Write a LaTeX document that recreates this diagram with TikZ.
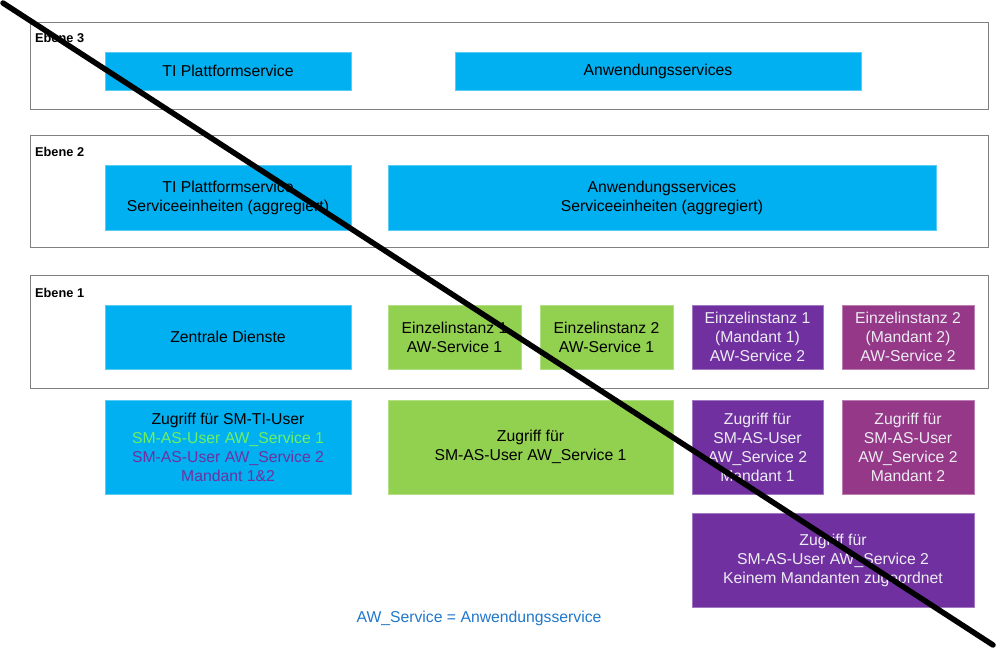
\documentclass[tikz,border=0pt]{standalone}
\usepackage{fontspec}
\setmainfont{Liberation Sans}
\usepackage{tikz}
\definecolor{tiblue}{RGB}{0,176,240}
\definecolor{awgreen}{RGB}{146,208,80}
\definecolor{awpurple}{RGB}{112,48,160}
\definecolor{awmagenta}{RGB}{149,56,136}
\definecolor{usergreen}{RGB}{110,240,100}
\definecolor{noteblue}{RGB}{31,119,204}
\definecolor{lighttext}{RGB}{236,236,242}
\tikzset{
	box/.style={rectangle, inner sep=0pt, align=center, line width=0.6bp,
		font=\fontsize{15.8}{19}\selectfont},
	bluebox/.style={box, fill=tiblue, draw=tiblue!65!white, text=black},
	greenbox/.style={box, fill=awgreen, draw=awgreen!70!white, text=black},
	purplebox/.style={box, fill=awpurple, draw=awpurple!65!white, text=lighttext},
	magentabox/.style={box, fill=awmagenta, draw=awmagenta!65!white, text=lighttext},
	levelframe/.style={draw=black!50, line width=0.9bp},
	levellabel/.style={anchor=base west, inner sep=0pt,
		font=\bfseries\fontsize{12.8}{15}\selectfont}
}

\begin{document}
\begin{tikzpicture}[x=1bp, y=-1bp]
		%%%%% START %%%%%
		\useasboundingbox (0,0) rectangle (997,649);
		
		% Ebene 3
		\draw[levelframe] (30,22) rectangle (988,109);
		\node[levellabel] (l3) at (35,43) {Ebene 3};
		\node[bluebox, minimum width=246bp, minimum height=38bp] (tips3) at (228,71) {TI Plattformservice};
		\node[bluebox, minimum width=406bp, minimum height=38bp] (aws3) at (658,71) {Anwendungsservices};
		
		% Ebene 2
		\draw[levelframe] (30,135) rectangle (988,247);
		\node[levellabel] (l2) at (35,157) {Ebene 2};
		\node[bluebox, minimum width=246bp, minimum height=65bp] (tips2) at (228,197.5) {TI Plattformservice\\Serviceeinheiten (aggregiert)};
		\node[bluebox, minimum width=548bp, minimum height=65bp] (aws2) at (662,197.5) {Anwendungsservices\\Serviceeinheiten (aggregiert)};
		
		% Ebene 1
		\draw[levelframe] (30,275) rectangle (988,388);
		\node[levellabel] (l1) at (35,297) {Ebene 1};
		\node[bluebox, minimum width=246bp, minimum height=64bp] (zd) at (228,337) {Zentrale Dienste};
		\node[greenbox, minimum width=133bp, minimum height=64bp] (ei1) at (454.5,337) {Einzelinstanz 1\\AW-Service 1};
		\node[greenbox, minimum width=133bp, minimum height=64bp] (ei2) at (606.5,337) {Einzelinstanz 2\\AW-Service 1};
		\node[purplebox, minimum width=131bp, minimum height=64bp] (ei1m) at (757.5,337) {Einzelinstanz 1\\(Mandant 1)\\AW-Service 2};
		\node[magentabox, minimum width=132bp, minimum height=64bp] (ei2m) at (908,337) {Einzelinstanz 2\\(Mandant 2)\\AW-Service 2};
		
		% Zugriffe
		\node[bluebox, minimum width=246bp, minimum height=94bp] (zti) at (228,447) {Zugriff für SM-TI-User\\\textcolor{usergreen}{SM-AS-User AW\_Service 1}\\\textcolor{awpurple}{SM-AS-User AW\_Service 2}\\\textcolor{awpurple}{Mandant 1\&2}};
		\node[greenbox, minimum width=285bp, minimum height=94bp] (zaw1) at (530.5,447) {Zugriff für\\SM-AS-User AW\_Service 1};
		\node[purplebox, minimum width=131bp, minimum height=94bp] (zm1) at (757.5,447) {Zugriff für\\SM-AS-User\\AW\_Service 2\\Mandant 1};
		\node[magentabox, minimum width=132bp, minimum height=94bp] (zm2) at (908,447) {Zugriff für\\SM-AS-User\\AW\_Service 2\\Mandant 2};
		\node[purplebox, minimum width=282bp, minimum height=94bp] (zkm) at (833,560) {Zugriff für\\SM-AS-User AW\_Service 2\\Keinem Mandanten zugeordnet};
		
		\node[box, text=noteblue] (note) at (479,618) {AW\_Service = Anwendungsservice};
		
		% durchgestrichen
		\coordinate (strikeA) at (3,3);
		\coordinate (strikeB) at (993,645);
		\draw[line width=5.5bp, line cap=round] (strikeA) -- (strikeB);
		
		%%%%% END %%%%%
	\end{tikzpicture}
\end{document}
